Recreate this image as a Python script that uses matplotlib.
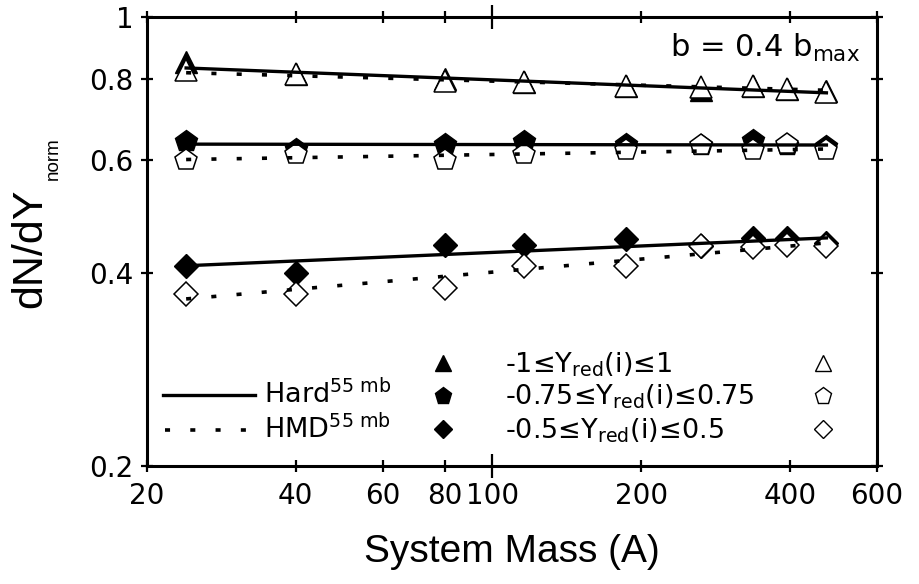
import matplotlib
matplotlib.use("Agg")
import matplotlib.pyplot as plt
from matplotlib.ticker import FixedLocator, FixedFormatter, NullLocator

plt.rcParams['font.family'] = ['DejaVu Sans']
plt.rcParams['mathtext.fontset'] = 'custom'
plt.rcParams['mathtext.rm'] = 'DejaVu Sans'
plt.rcParams['mathtext.it'] = 'DejaVu Sans:italic'
plt.rcParams['mathtext.bf'] = 'DejaVu Sans:bold'

# ---------------- data ----------------
system_mass = [24, 40, 80, 116, 186, 264, 336, 394, 474]

hard_tri = [0.851, 0.815, 0.802, 0.791, 0.782, 0.770, 0.782, 0.773, 0.768]
hmd_tri = [0.826, 0.815, 0.794, 0.791, 0.782, 0.778, 0.782, 0.773, 0.764]
hard_pent = [0.641, 0.623, 0.634, 0.641, 0.634, 0.631, 0.643, 0.632, 0.630]
hmd_pent = [0.600, 0.612, 0.600, 0.611, 0.620, 0.631, 0.620, 0.634, 0.620]
hard_dia = [0.410, 0.399, 0.441, 0.441, 0.451, 0.440, 0.453, 0.453, 0.445]
hmd_dia = [0.371, 0.371, 0.379, 0.410, 0.410, 0.440, 0.439, 0.441, 0.440]

fit_mass = [24, 474]
fit_hard_tri = [0.833, 0.762]
fit_hmd_tri = [0.819, 0.769]
fit_hard_pent = [0.634, 0.632]
fit_hmd_pent = [0.600, 0.623]
fit_hard_dia = [0.410, 0.453]
fit_hmd_dia = [0.364, 0.445]

x_ticks = [20, 40, 60, 80, 100, 200, 400, 600]
x_ticklabels = ['20', '40', '60', '80', '100', '200', '400', '600']
y_ticks = [0.2, 0.4, 0.6, 0.8, 1.0]
y_ticklabels = ['0.2', '0.4', '0.6', '0.8', '1']

range_labels = ['-1≤Y$_{\\mathrm{red}}$(i)≤1',
                '-0.75≤Y$_{\\mathrm{red}}$(i)≤0.75',
                '-0.5≤Y$_{\\mathrm{red}}$(i)≤0.5']
model_labels = ['Hard$^{\\mathrm{55\\ mb}}$', 'HMD$^{\\mathrm{55\\ mb}}$']

# ---------------- figure ----------------
fig = plt.figure(figsize=(9.19, 5.84), dpi=100)
ax = fig.add_axes([147/919, 1-466/584, 730/919, 449/584])
ax.set_xscale('log')
ax.set_yscale('log')
ax.set_xlim(20, 600)
ax.set_ylim(0.2, 1.0)

dot_dash = (0, (1.4, 5.6))
line_kw = dict(color='black', zorder=5)
ax.plot(fit_mass, fit_hard_tri, lw=2.4, **line_kw)
ax.plot(fit_mass, fit_hard_pent, lw=2.4, **line_kw)
ax.plot(fit_mass, fit_hard_dia, lw=2.4, **line_kw)
ax.plot(fit_mass, fit_hmd_tri, lw=2.6, linestyle=dot_dash, **line_kw)
ax.plot(fit_mass, fit_hmd_pent, lw=2.6, linestyle=dot_dash, **line_kw)
ax.plot(fit_mass, fit_hmd_dia, lw=2.6, linestyle=dot_dash, **line_kw)

ms_tri, ms_pent, ms_dia = 16, 16, 12.5
filled = dict(linestyle='none', color='black', zorder=3)
opened = dict(linestyle='none', markerfacecolor='white', markeredgecolor='black',
              markeredgewidth=1.1, zorder=4)
ax.plot(system_mass, hard_tri, marker='^', ms=ms_tri, **filled)
ax.plot(system_mass, hard_pent, marker='p', ms=ms_pent, **filled)
ax.plot(system_mass, hard_dia, marker='D', ms=ms_dia, **filled)
ax.plot(system_mass, hmd_tri, marker='^', ms=ms_tri, **opened)
ax.plot(system_mass, hmd_pent, marker='p', ms=ms_pent, **opened)
ax.plot(system_mass, hmd_dia, marker='D', ms=ms_dia, **opened)

# ticks
ax.xaxis.set_major_locator(FixedLocator(x_ticks))
ax.xaxis.set_major_formatter(FixedFormatter(x_ticklabels))
ax.xaxis.set_minor_locator(NullLocator())
ax.yaxis.set_major_locator(FixedLocator(y_ticks))
ax.yaxis.set_major_formatter(FixedFormatter(y_ticklabels))
ax.yaxis.set_minor_locator(NullLocator())
ax.tick_params(axis='both', which='major', direction='inout', width=1.6,
               labelsize=20, top=True, right=True, length=9, color='black')
ax.tick_params(axis='x', pad=7)
ax.tick_params(axis='y', pad=5)
for i, t in enumerate(ax.xaxis.get_major_ticks()):
    if x_ticks[i] == 100:
        t.tick1line.set_markersize(17)
        t.tick2line.set_markersize(17)
for s in ax.spines.values():
    s.set_linewidth(2.2)

# labels
fig.text(512/919, 1-552/584, 'System Mass (A)', fontsize=28, ha='center', va='center',
         family='Liberation Sans')
fig.text(30/919, 1-248/584, 'dN/dY', fontsize=31, rotation=90,
         ha='center', va='center', family='Liberation Sans')
fig.text(53/919, 1-159/584, 'norm', fontsize=13.5, rotation=90,
         ha='center', va='center', family='Liberation Sans')
ax.text(0.977, 0.911, 'b = 0.4 b$_{\\mathrm{max}}$', fontsize=22, ha='right',
        va='baseline', transform=ax.transAxes)

# legend (manual)
T = ax.transAxes
ax.plot([0.022, 0.148], [0.158, 0.158], color='black', lw=2.4, transform=T, clip_on=False)
ax.plot([0.024, 0.148], [0.080, 0.080], color='black', lw=2.6, linestyle=dot_dash,
        transform=T, clip_on=False)
ax.text(0.160, 0.140, model_labels[0], fontsize=19.5, transform=T, va='baseline')
ax.text(0.160, 0.062, model_labels[1], fontsize=19.5, transform=T, va='baseline')

leg_y = [0.229, 0.156, 0.082]
leg_base = [0.209, 0.136, 0.062]
leg_markers = ['^', 'p', 'D']
leg_ms = [12, 12.5, 9.5]
for yy, yb, mk, msz, lab in zip(leg_y, leg_base, leg_markers, leg_ms, range_labels):
    ax.plot([0.405], [yy], marker=mk, ms=msz, color='black', linestyle='none',
            transform=T, clip_on=False)
    ax.plot([0.926], [yy], marker=mk, ms=msz, markerfacecolor='white',
            markeredgecolor='black', markeredgewidth=1.0, linestyle='none',
            transform=T, clip_on=False)
    ax.text(0.491, yb, lab, fontsize=19.5, transform=T, va='baseline')

fig.savefig('out.png', dpi=100)
